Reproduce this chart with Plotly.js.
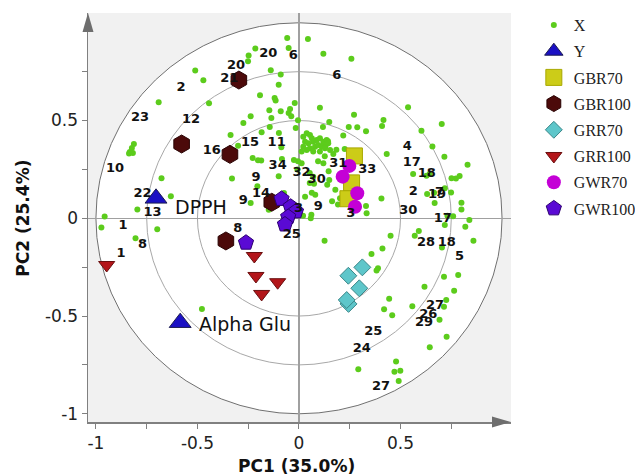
<!DOCTYPE html>
<html>
<head>
<meta charset="utf-8">
<script src="https://cdn.plot.ly/plotly-3.0.1.min.js"></script>
<style>html,body{margin:0;padding:0;background:#fff;}#chart{width:635px;height:476px;}</style>
</head>
<body>
<div id="chart"></div>
<script>
// X loadings (green dots)
const xDotsX = [-0.511,-0.471,-0.691,-0.443,-0.813,-0.823,-0.833,-0.837,-0.818,-0.677,-0.631,-0.796,-0.957,-0.973,-0.805,-0.698,-0.478,-0.337,
 -0.058,0.044,-0.215,-0.248,-0.251,-0.051,0.120,0.258,-0.139,-0.090,-0.100,-0.192,-0.120,-0.115,-0.021,-0.146,-0.090,-0.044,-0.051,0.271,0.103,
 -0.238,-0.136,-0.038,-0.005,0.149,-0.274,-0.144,-0.016,0.118,0.245,0.287,0.330,-0.184,-0.099,0.218,-0.300,-0.087,0.143,0.130,-0.228,-0.202,
 -0.186,-0.084,-0.005,0.094,0.127,0.184,0.225,-0.330,-0.100,-0.008,0.053,0.053,0.074,0.080,0.146,-0.205,-0.074,-0.238,0.020,0.061,-0.149,
 0.139,0.179,0.163,0.192,0.416,0.409,0.432,0.169,0.120,0.149,0.070,0.202,0.406,0.330,0.333,0.058,0.030,0.063,0.013,-0.025,
 0.021,0.038,0.054,0.063,0.030,0.046,0.070,0.087,0.103,0.120,0.136,0.144,0.079,0.095,0.112,0.054,0.021,0.128,0.070,0.038,0.103,0.153,0.013,
 0.537,0.703,0.603,0.657,0.716,0.830,0.562,0.628,0.644,0.751,0.773,0.791,0.631,0.665,0.718,0.749,0.800,0.800,0.668,0.731,0.759,0.839,
 0.819,0.718,0.590,0.570,0.451,0.704,0.859,0.411,0.357,0.389,0.382,0.714,0.784,0.618,0.764,0.725,0.444,0.558,0.714,0.419,0.459,0.692,
 0.727,0.644,0.478,0.470,0.499,0.491,0.292,0.126];
const xDotsY = [0.756,0.706,0.593,0.588,0.380,0.360,0.339,0.331,0.334,0.205,0.113,0.045,0.009,-0.047,-0.102,-0.056,-0.464,0.426,
 0.922,0.917,0.868,0.832,0.803,0.871,0.842,0.816,0.757,0.735,0.683,0.629,0.615,0.602,0.590,0.552,0.547,0.559,0.539,0.530,0.566,
 0.522,0.513,0.522,0.501,0.493,0.487,0.467,0.462,0.467,0.467,0.465,0.445,0.440,0.436,0.423,0.371,0.363,0.394,0.368,0.308,0.297,
 0.295,0.303,0.292,0.292,0.317,0.351,0.354,0.203,0.215,0.249,0.232,0.181,0.177,0.121,0.240,0.164,0.129,0.078,0.013,0.018,0.044,
 0.172,0.146,0.087,0.070,0.503,0.472,0.329,0.329,0.281,0.196,0.213,0.102,0.101,0.063,0.026,0.000,0.110,0.131,0.281,0.298,
 0.417,0.435,0.426,0.409,0.392,0.384,0.392,0.401,0.409,0.392,0.401,0.384,0.366,0.375,0.366,0.358,0.366,0.358,0.341,0.349,0.341,0.349,0.341,
 0.568,0.482,0.448,0.367,0.315,0.274,0.227,0.218,0.228,0.205,0.204,0.216,0.124,0.131,0.153,0.132,0.080,0.045,0.078,0.013,0.010,-0.009,
 -0.043,-0.034,-0.065,-0.089,-0.089,-0.150,-0.115,-0.155,-0.183,-0.256,-0.267,-0.299,-0.290,-0.350,-0.371,-0.418,-0.411,-0.450,-0.452,-0.465,-0.496,-0.519,
 -0.606,-0.660,-0.733,-0.785,-0.780,-0.832,-0.772,-0.115];

// Y responses
const yNames = ["DPPH", "Alpha Glu"];
const yX = [-0.704, -0.585];
const yY = [0.102, -0.534];

// Sample groups
const gbr70X = [0.273, 0.259, 0.241];
const gbr70Y = [0.319, 0.181, 0.100];
const gbr100X = [-0.296, -0.578, -0.340, -0.134, -0.360];
const gbr100Y = [0.707, 0.380, 0.327, 0.082, -0.116];
const grr70X = [0.312, 0.243, 0.297, 0.244, 0.235];
const grr70Y = [-0.251, -0.294, -0.358, -0.438, -0.418];
const grr100X = [-0.947, -0.220, -0.212, -0.105, -0.184];
const grr100Y = [-0.239, -0.193, -0.295, -0.327, -0.387];
const gwr70X = [0.248, 0.215, 0.287, 0.276];
const gwr70Y = [0.268, 0.213, 0.128, 0.059];
const gwr100X = [-0.086, -0.041, -0.015, -0.053, -0.069, -0.261];
const gwr100Y = [0.099, 0.059, 0.035, 0.007, -0.032, -0.125];

// Variable number labels
const labelText = ["20","6","20","21","2","23","12","10","16","15","11","34","32","30","9","9","14","22","13","1","8","25","3","9",
 "31","33","3","6","4","17","18","2","19","7","30","17","28","18","5","27","26","29","25","24","27","1","8"];
const labelX = [-0.151,-0.028,-0.310,-0.343,-0.581,-0.783,-0.532,-0.906,-0.429,-0.241,-0.110,-0.105,0.013,0.087,-0.212,-0.274,-0.187,-0.770,-0.721,-0.866,-0.302,-0.036,-0.002,0.095,
 0.194,0.336,0.255,0.186,0.533,0.555,0.629,0.563,0.680,0.692,0.538,0.708,0.626,0.728,0.790,0.670,0.637,0.616,0.366,0.309,0.404,-0.877,-0.770];
const labelY = [0.840,0.830,0.781,0.716,0.670,0.512,0.506,0.252,0.346,0.384,0.384,0.269,0.232,0.196,0.208,0.088,0.128,0.123,0.029,-0.039,-0.051,-0.082,0.048,0.059,
 0.281,0.247,0.022,0.728,0.366,0.284,0.230,0.136,0.119,0.129,0.039,0.000,-0.123,-0.123,-0.199,-0.449,-0.495,-0.534,-0.580,-0.665,-0.861,-0.179,-0.137];

const tickVals = [-1, -0.5, 0, 0.5];
const tickText = ["-1", "-0.5", "0", "0.5"];
const minorVals = [-0.75, -0.25, 0.25, 0.75];
const circleRadii = [1, 0.75, 0.5];

const traces = [
  {type:'scatter', mode:'markers', name:'X', legendgroup:'g1', x:xDotsX, y:xDotsY,
   marker:{symbol:'circle', size:6, color:'#5ccc1c'}},
  {type:'scatter', mode:'markers', name:'Y', legendgroup:'g2', x:yX, y:yY,
   marker:{symbol:'triangle-up', size:19, color:'#1a10c4', line:{color:'#1c1c50', width:1}}},
  {type:'scatter', mode:'markers', name:'GBR70', legendgroup:'g3', x:gbr70X, y:gbr70Y,
   marker:{symbol:'square', size:16, color:'#cccc18', line:{color:'#a8a800', width:1}}},
  {type:'scatter', mode:'markers', name:'GBR100', legendgroup:'g4', x:gbr100X, y:gbr100Y,
   marker:{symbol:'hexagon', size:18, color:'#4c0a0a', line:{color:'#2a0404', width:1}}},
  {type:'scatter', mode:'markers', name:'GRR70', legendgroup:'g5', x:grr70X, y:grr70Y,
   marker:{symbol:'diamond', size:13, color:'#5ec6ca', line:{color:'#3a8688', width:1}}},
  {type:'scatter', mode:'markers', name:'GRR100', legendgroup:'g6', x:grr100X, y:grr100Y,
   marker:{symbol:'triangle-down', size:14, color:'#b3161a', line:{color:'#6a1010', width:1}}},
  {type:'scatter', mode:'markers', name:'GWR70', legendgroup:'g7', x:gwr70X, y:gwr70Y,
   marker:{symbol:'circle', size:14, color:'#c400d6'}},
  {type:'scatter', mode:'markers', name:'GWR100', legendgroup:'g8', x:gwr100X, y:gwr100Y,
   marker:{symbol:'pentagon', size:16, color:'#5a0ad4', line:{color:'#2c0070', width:1}}},
  {type:'scatter', mode:'text', x:labelX, y:labelY, text:labelText, showlegend:false, hoverinfo:'skip',
   textposition:'middle center', textfont:{family:'DejaVu Sans', size:13, color:'#111', weight:'bold'}}
];

const shapes = [];
circleRadii.forEach((r, i) => {
  shapes.push({type:'circle', xref:'x', yref:'y', x0:-r, x1:r, y0:-r, y1:r, layer:'below',
    fillcolor: i === 0 ? '#ffffff' : 'rgba(0,0,0,0)',
    line:{color: i === 0 ? '#707070' : '#a8a8a8', width:1}});
});
// axis arrow heads
shapes.push({type:'path', xref:'paper', yref:'paper', xsizemode:'pixel', ysizemode:'pixel', xanchor:0, yanchor:1,
  path:'M -5.5,-19 L 5.5,-19 L 0,0 Z', fillcolor:'#6e6e6e', line:{width:0}});
shapes.push({type:'path', xref:'paper', yref:'paper', xsizemode:'pixel', ysizemode:'pixel', xanchor:1, yanchor:0,
  path:'M -19,5.5 L -19,-5.5 L 0,0 Z', fillcolor:'#6e6e6e', line:{width:0}});

const annotations = [
  {xref:'x', yref:'y', x:-0.622, y:0.056, text:yNames[0], showarrow:false, xanchor:'left', yanchor:'middle',
   font:{family:'DejaVu Sans', size:19, color:'#111'}},
  {xref:'x', yref:'y', x:-0.504, y:-0.541, text:yNames[1], showarrow:false, xanchor:'left', yanchor:'middle',
   font:{family:'DejaVu Sans', size:19, color:'#111'}},
  {xref:'paper', yref:'paper', x:0.494, y:-0.108, text:'PC1 (35.0%)', showarrow:false, xanchor:'center', yanchor:'middle',
   font:{family:'DejaVu Sans', size:17, color:'#111', weight:'bold'}},
  {xref:'paper', yref:'paper', x:-0.154, y:0.499, text:'PC2 (25.4%)', showarrow:false, textangle:-90, xanchor:'center', yanchor:'middle',
   font:{family:'DejaVu Sans', size:17, color:'#111', weight:'bold'}}
];

const axisCommon = {
  tickmode:'array', tickvals:tickVals, ticktext:tickText, ticks:'outside', ticklen:5, tickcolor:'#808080', tickwidth:1,
  minor:{tickmode:'array', tickvals:minorVals, ticks:'outside', ticklen:5, tickcolor:'#808080', showgrid:false},
  showgrid:false, zeroline:true, zerolinecolor:'#a0a0a0', zerolinewidth:1.5,
  showline:true, linecolor:'#808080', linewidth:1.5,
  tickfont:{family:'DejaVu Sans', size:17, color:'#222'}, fixedrange:true
};

const layout = {
  width:635, height:476,
  margin:{l:88, r:124, t:13, b:54, pad:0, autoexpand:false},
  paper_bgcolor:'#ffffff', plot_bgcolor:'#f1f1f1',
  showlegend:true,
  legend:{x:1.054, y:1.012, xanchor:'left', yanchor:'top', bgcolor:'rgba(0,0,0,0)', traceorder:'grouped',
    font:{family:'Liberation Serif', size:16, color:'#222'}, tracegroupgap:2.4},
  xaxis:Object.assign({range:[-1.039, 1.044]}, axisCommon),
  yaxis:Object.assign({range:[-1.042, 1.050]}, axisCommon),
  shapes:shapes, annotations:annotations
};

Plotly.newPlot('chart', traces, layout, {staticPlot:true, displayModeBar:false});
</script>
</body>
</html>
